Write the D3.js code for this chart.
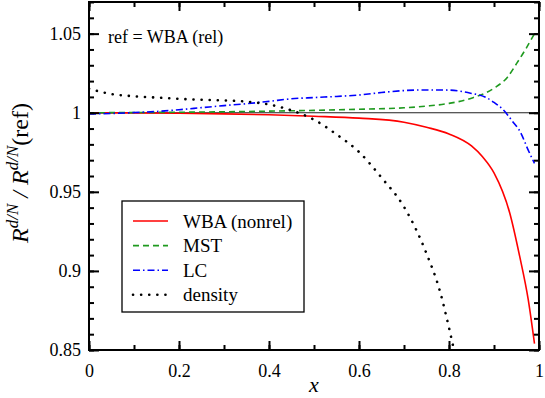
<!DOCTYPE html>
<html>
<head>
<meta charset="utf-8">
<script src="https://cdn.jsdelivr.net/npm/d3@7"></script>
<style>
  body { margin: 0; background: #fff; }
  svg text { font-family: "Liberation Serif", "Times New Roman", Times, "DejaVu Serif", "Noto Serif", serif; fill: #000; }
</style>
</head>
<body>
<div id="svgContainer"></div>
<script>
// data
var xWBA = [0, 0.1, 0.2, 0.3, 0.4, 0.5, 0.6, 0.7, 0.75, 0.8, 0.85, 0.875, 0.9, 0.935, 0.957, 0.976, 0.99];
var yWBA = [1.0, 0.9999, 0.9997, 0.9993, 0.9987, 0.9978, 0.9966, 0.9940, 0.9908, 0.9866, 0.9790, 0.9720, 0.9620, 0.9366, 0.9093, 0.8820, 0.8540];

var xMST = [0, 0.1, 0.2, 0.3, 0.4, 0.5, 0.6, 0.7, 0.75, 0.8, 0.85, 0.9, 0.93, 0.95, 0.97, 0.99];
var yMST = [1.0, 1.0001, 1.0003, 1.0006, 1.0010, 1.0015, 1.0022, 1.0031, 1.0042, 1.0059, 1.0092, 1.0155, 1.0225, 1.0310, 1.0400, 1.0500];

var xLC = [0, 0.05, 0.1, 0.15, 0.2, 0.25, 0.3, 0.35, 0.4, 0.45, 0.5, 0.55, 0.6, 0.65, 0.7, 0.75, 0.8, 0.85, 0.88, 0.9, 0.92, 0.94, 0.96, 0.975, 0.99];
var yLC = [0.9992, 0.9995, 1.0001, 1.0008, 1.0019, 1.0032, 1.0045, 1.0057, 1.0072, 1.0088, 1.0096, 1.0103, 1.0112, 1.0128, 1.0140, 1.0144, 1.0143, 1.0122, 1.0100, 1.0065, 1.0020, 0.9950, 0.9870, 0.9770, 0.9680];

var xDens = [0, 0.05, 0.1, 0.15, 0.2, 0.25, 0.3, 0.35, 0.4, 0.45, 0.5, 0.55, 0.6, 0.65, 0.7, 0.75, 0.78, 0.8, 0.82];
var yDens = [1.0152, 1.0118, 1.0104, 1.0096, 1.0088, 1.0082, 1.0078, 1.0070, 1.0052, 1.0015, 0.9956, 0.9863, 0.9752, 0.9590, 0.9405, 0.9110, 0.8870, 0.8640, 0.8380];

var seriesNames = ["WBA (nonrel)", "MST", "LC", "density"];
var xTicks = [0, 0.2, 0.4, 0.6, 0.8, 1];
var xTickLabels = ["0", "0.2", "0.4", "0.6", "0.8", "1"];
var yTicks = [0.85, 0.9, 0.95, 1, 1.05];
var yTickLabels = ["0.85", "0.9", "0.95", "1", "1.05"];

var serif = "'Liberation Serif', 'Times New Roman', Times, 'DejaVu Serif', serif";

var margin = {top: 2, right: 6, bottom: 48, left: 89},
    width = 545 - margin.left - margin.right,
    height = 398 - margin.top - margin.bottom;

var svg = d3.select("#svgContainer")
    .append("svg")
    .attr("width", 545)
    .attr("height", 398)
    .attr("font-family", serif);

var g = svg.append("g")
    .attr("transform", "translate(" + margin.left + "," + margin.top + ")");

var x = d3.scaleLinear().domain([0, 1]).range([0, width]);
var y = d3.scaleLinear().domain([0.85, 1.07]).range([height, 0]);

g.append("clipPath").attr("id", "clip")
    .append("rect").attr("width", width).attr("height", height);

// reference line at 1
g.append("line")
    .attr("x1", 0).attr("x2", width)
    .attr("y1", y(1)).attr("y2", y(1))
    .style("stroke", "#222")
    .style("stroke-width", 1.2);

var line = d3.line()
    .x(function(d) { return x(d[0]); })
    .y(function(d) { return y(d[1]); })
    .curve(d3.curveMonotoneX);

var series = [
    {xs: xWBA, ys: yWBA, color: "#ff0000", dash: null, width: 1.6},
    {xs: xMST, ys: yMST, color: "#1f9a1f", dash: "6,4", width: 1.6},
    {xs: xLC, ys: yLC, color: "#0000ff", dash: "7,3,1.5,3", width: 1.6},
    {xs: xDens, ys: yDens, color: "#000000", dash: "0.1,8", width: 2.6}
];

var plot = g.append("g").attr("clip-path", "url(#clip)");
series.forEach(function(s) {
    var pts = s.xs.map(function(v, i) { return [v, s.ys[i]]; });
    plot.append("path")
        .datum(pts)
        .attr("d", line)
        .style("fill", "none")
        .style("stroke", s.color)
        .style("stroke-width", s.width)
        .style("stroke-dasharray", s.dash)
        .style("stroke-linecap", s.dash === "0.1,8" ? "round" : "butt");
});

// axes, ticks pointing inward
function styleAxis(sel) {
    sel.attr("font-family", serif);
    sel.select(".domain").remove();
    sel.selectAll(".tick line").style("stroke", "#000").style("stroke-width", 2);
    sel.selectAll("text").style("font-size", "18px").style("font-family", serif);
}
var yMinor = d3.range(0.85, 1.0701, 0.01);
var xMinor = d3.range(0, 1.001, 0.1);

g.append("g").attr("transform", "translate(0," + height + ")")
    .call(d3.axisBottom(x).tickValues(xMinor).tickSize(-5).tickFormat(""))
    .call(styleAxis);
g.append("g").attr("transform", "translate(0," + height + ")")
    .call(d3.axisBottom(x).tickValues(xTicks).tickSize(-9).tickPadding(14)
        .tickFormat(function(d, i) { return xTickLabels[i]; }))
    .call(styleAxis);
g.append("g")
    .call(d3.axisTop(x).tickValues(xMinor).tickSize(-5).tickFormat(""))
    .call(styleAxis);
g.append("g")
    .call(d3.axisTop(x).tickValues(xTicks).tickSize(-9).tickFormat(""))
    .call(styleAxis);

g.append("g")
    .call(d3.axisLeft(y).tickValues(yMinor).tickSize(-5).tickFormat(""))
    .call(styleAxis);
g.append("g")
    .call(d3.axisLeft(y).tickValues(yTicks).tickSize(-10).tickPadding(8)
        .tickFormat(function(d, i) { return yTickLabels[i]; }))
    .call(styleAxis);
g.append("g").attr("transform", "translate(" + width + ",0)")
    .call(d3.axisRight(y).tickValues(yMinor).tickSize(-5).tickFormat(""))
    .call(styleAxis);
g.append("g").attr("transform", "translate(" + width + ",0)")
    .call(d3.axisRight(y).tickValues(yTicks).tickSize(-10).tickFormat(""))
    .call(styleAxis);

// frame
g.append("rect")
    .attr("width", width).attr("height", height)
    .style("fill", "none").style("stroke", "#000").style("stroke-width", 2);

// annotation
g.append("text")
    .attr("x", 19).attr("y", 41)
    .style("font-size", "18px")
    .text("ref = WBA (rel)");

// legend
var legend = g.append("g").attr("transform", "translate(33,199)");
legend.append("rect")
    .attr("width", 182).attr("height", 111)
    .style("fill", "#fff").style("stroke", "#000").style("stroke-width", 1.3);
seriesNames.forEach(function(name, i) {
    var s = series[i];
    var row = legend.append("g").attr("transform", "translate(0," + (20 + i * 24.6) + ")");
    row.append("line")
        .attr("x1", 11).attr("x2", 46)
        .style("stroke", s.color)
        .style("stroke-width", s.width)
        .style("stroke-dasharray", s.dash)
        .style("stroke-linecap", s.dash === "0.1,8" ? "round" : "butt");
    row.append("text")
        .attr("x", 61).attr("y", 6.5)
        .style("font-size", "19px")
        .text(name);
});

// axis titles
g.append("text")
    .attr("x", width / 2).attr("y", height + 42)
    .attr("text-anchor", "middle")
    .style("font-size", "22px").style("font-style", "italic")
    .text("x");

var yl = svg.append("text")
    .attr("transform", "translate(28,173) rotate(-90)")
    .attr("text-anchor", "middle")
    .style("font-size", "24px");
yl.append("tspan").style("font-style", "italic").text("R");
yl.append("tspan").attr("dy", -10).style("font-size", "17px").style("font-style", "italic").text("d/N");
yl.append("tspan").attr("dy", 10).style("font-style", "italic").text(" / R");
yl.append("tspan").attr("dy", -10).style("font-size", "17px").style("font-style", "italic").text("d/N");
yl.append("tspan").attr("dy", 10).text("(ref)");
</script>
</body>
</html>
